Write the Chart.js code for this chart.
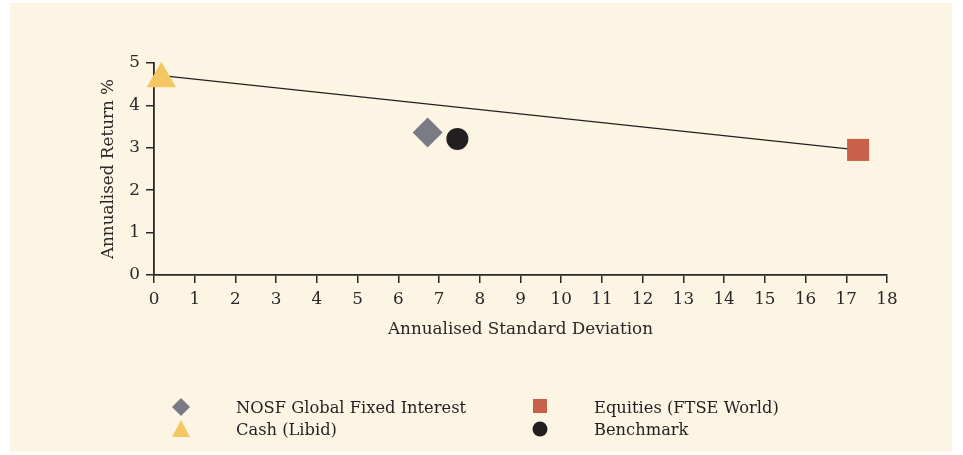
<!DOCTYPE html>
<html>
<head>
<meta charset="utf-8">
<script src="https://cdn.jsdelivr.net/npm/chart.js@4/dist/chart.umd.min.js"></script>
<style>
  html, body { margin: 0; padding: 0; background: #ffffff; }
  #wrap { position: relative; width: 963px; height: 455px; overflow: hidden; }
  #panel { position: absolute; left: 10px; top: 3px; width: 942px; height: 449px; background: #fdf5e4; }
  #c { position: absolute; left: 0; top: 0; }
  .lg { position: absolute; font-family: "DejaVu Serif", serif; font-size: 16.3px; color: #231f20; line-height: 20px; white-space: nowrap; }
  .mk { position: absolute; }
</style>
</head>
<body>
<div id="wrap">
  <div id="panel"></div>
  <canvas id="c" width="963" height="455"></canvas>
  <div id="legend"></div>
</div>
<script>
// ---- data ----
const seriesNames = ["NOSF Global Fixed Interest", "Equities (FTSE World)", "Cash (Libid)", "Benchmark"];
const stdDev = [6.72, 17.29, 0.18, 7.45];
const annReturn = [3.36, 2.95, 4.63, 3.21];
const lineStdDev = [0.19, 17.27];
const lineReturn = [4.70, 2.95];
const xTicks = [0,1,2,3,4,5,6,7,8,9,10,11,12,13,14,15,16,17,18];
const yTicks = [0,1,2,3,4,5];

const colors = ["#7b7b86", "#c8604a", "#f3c862", "#231f20"];
const shapes = ["rectRot", "rect", "triangle", "circle"];
const radii = [15, 15.6, 17, 11];

const FONT = "DejaVu Serif";
const FS = 16.8;
const ink = "#2b2627";

const datasets = [{
  type: 'line',
  label: 'line',
  data: lineStdDev.map((x, i) => ({x, y: lineReturn[i]})),
  borderColor: '#231f20',
  borderWidth: 1.2,
  pointRadius: 0,
  pointHoverRadius: 0,
  fill: false,
  clip: false,
  order: 5
}];
seriesNames.forEach((n, i) => {
  datasets.push({
    type: 'scatter',
    label: n,
    data: [{x: stdDev[i], y: annReturn[i]}],
    pointStyle: shapes[i],
    pointRadius: radii[i],
    pointHoverRadius: radii[i],
    backgroundColor: colors[i],
    borderColor: colors[i],
    borderWidth: 0,
    clip: false,
    order: 1
  });
});

new Chart(document.getElementById('c'), {
  type: 'scatter',
  data: { datasets },
  options: {
    responsive: false,
    animation: false,
    events: [],
    layout: { padding: { left: 95, right: 76, top: 63, bottom: 111 } },
    plugins: { legend: { display: false }, tooltip: { enabled: false } },
    scales: {
      x: {
        type: 'linear', min: 0, max: 18,
        afterFit: s => { s.height = 69; },
        afterBuildTicks: s => { s.ticks = xTicks.map(v => ({value: v})); },
        ticks: { color: ink, font: { family: FONT, size: FS }, padding: 7, maxRotation: 0, autoSkip: false },
        grid: { display: true, drawOnChartArea: false, drawTicks: true, tickLength: 8, color: ink, lineWidth: 1.5 },
        border: { display: true, color: ink, width: 1.8 },
        title: { display: true, text: 'Annualised Standard Deviation', color: ink, font: { family: FONT, size: FS }, padding: { top: 4, bottom: 4 } }
      },
      y: {
        type: 'linear', min: 0, max: 5,
        afterFit: s => { s.width = 59; },
        afterBuildTicks: s => {
          const t = [];
          for (let v = 0; v <= 5.001; v += 0.5) t.push({value: Math.round(v * 10) / 10});
          s.ticks = t;
        },
        ticks: {
          color: ink, font: { family: FONT, size: FS }, padding: 6,
          callback: v => (yTicks.includes(v) ? String(v) : '')
        },
        grid: { display: true, drawOnChartArea: false, drawTicks: true, tickLength: 8, color: ink, lineWidth: 1.5 },
        border: { display: true, color: ink, width: 1.8 },
        title: { display: true, text: 'Annualised Return %', color: ink, font: { family: FONT, size: FS }, padding: { top: 4, bottom: 4 } }
      }
    }
  }
});

// ---- HTML legend ----
const legendPos = [
  {mx: 181, my: 407, tx: 236, ty: 408},
  {mx: 540, my: 406, tx: 594, ty: 408},
  {mx: 181, my: 429, tx: 236, ty: 430},
  {mx: 540, my: 429, tx: 594, ty: 430}
];
const svgFor = (shape, col) => {
  if (shape === 'rectRot') return `<svg width="18" height="18" viewBox="0 0 18 18"><polygon points="9,0 18,9 9,18 0,9" fill="${col}"/></svg>`;
  if (shape === 'rect') return `<svg width="18" height="18" viewBox="0 0 18 18"><rect x="2" y="2" width="14" height="14" fill="${col}"/></svg>`;
  if (shape === 'triangle') return `<svg width="18" height="18" viewBox="0 0 18 18"><polygon points="9,0 18,17 0,17" fill="${col}"/></svg>`;
  return `<svg width="18" height="18" viewBox="0 0 18 18"><circle cx="9" cy="9" r="7.5" fill="${col}"/></svg>`;
};
const lg = document.getElementById('legend');
seriesNames.forEach((n, i) => {
  const p = legendPos[i];
  const m = document.createElement('div');
  m.className = 'mk';
  m.style.left = (p.mx - 9) + 'px';
  m.style.top = (p.my - 9) + 'px';
  m.innerHTML = svgFor(shapes[i], colors[i]);
  lg.appendChild(m);
  const t = document.createElement('div');
  t.className = 'lg';
  t.style.left = p.tx + 'px';
  t.style.top = (p.ty - 10) + 'px';
  t.textContent = n;
  lg.appendChild(t);
});
</script>
</body>
</html>
